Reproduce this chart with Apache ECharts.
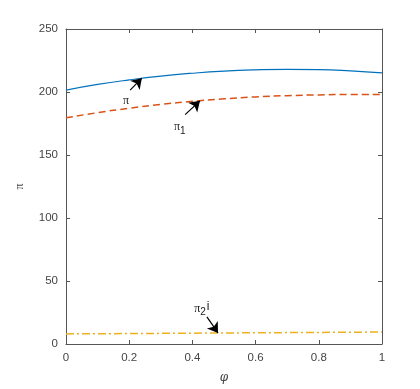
<!DOCTYPE html>
<html>
<head>
<meta charset="utf-8">
<script src="https://cdn.jsdelivr.net/npm/echarts@6/dist/echarts.min.js"></script>
<style>
  * { margin: 0; padding: 0; }
  html, body { background: #fff; }
  #main { width: 420px; height: 389px; }
</style>
</head>
<body>
<div id="main"></div>
<script>
// x positions (phi)
const phi = [0, 0.1, 0.2, 0.3, 0.4, 0.5, 0.6, 0.7, 0.8, 0.9, 1]
// series values
const piVals = [201.5, 206, 209.6, 212.6, 214.9, 216.6, 217.6, 218, 217.8, 216.8, 215.2]
const pi1Vals = [179.5, 183.6, 187.1, 190.1, 192.6, 194.6, 196.1, 197.1, 197.7, 198, 198]
const pi2Vals = [8, 8.15, 8.3, 8.45, 8.6, 8.75, 8.9, 9.05, 9.2, 9.35, 9.5]
// annotation arrows: [fromX, fromY, toX, toY]
const arrowPi = [0.203, 201.5, 0.24, 211]
const arrowPi1 = [0.377, 182, 0.424, 193]
const arrowPi2 = [0.446, 21.5, 0.481, 8.8]
// annotation label anchors
const labelPi = [0.19, 193]
const labelPi1 = [0.36, 172]
const labelPi2 = [0.43, 28]

const axisColor = '#555'
const textColor = '#444'

function pairs (ys) {
  return phi.map((x, i) => [x, ys[i]])
}

function arrow (a) {
  return {
    silent: true,
    symbol: ['none', 'arrow'],
    symbolSize: 10,
    label: { show: false },
    emphasis: { disabled: true },
    itemStyle: { color: '#000' },
    lineStyle: { color: '#000', type: 'solid', width: 1.2 },
    data: [[{ coord: [a[0], a[1]] }, { coord: [a[2], a[3]] }]]
  }
}

function label (p, text) {
  return {
    silent: true,
    symbol: 'circle',
    symbolSize: 0,
    label: {
      show: true,
      position: 'inside',
      formatter: text,
      fontFamily: 'Liberation Serif',
      fontSize: 12,
      color: '#222',
      rich: {
        s: { fontSize: 10, fontFamily: 'Liberation Sans', color: '#222', padding: [8, 0, 0, 0] },
        i: { fontSize: 12, fontFamily: 'Liberation Sans', color: '#222', padding: [0, 0, 4, 1] }
      }
    },
    data: [{ coord: p }]
  }
}

const myChart = echarts.init(document.getElementById('main'))

const option = {
  backgroundColor: '#fff',
  animation: false,
  grid: { left: 66, right: 38, top: 29, bottom: 44 },
  xAxis: [{
    type: 'value',
    min: 0,
    max: 1,
    interval: 0.2,
    name: 'φ',
    nameLocation: 'middle',
    nameGap: 28,
    nameTextStyle: { fontFamily: 'DejaVu Serif', fontStyle: 'italic', fontSize: 12, color: textColor },
    axisLine: { onZero: false, lineStyle: { color: axisColor } },
    axisTick: { inside: true, length: 4, lineStyle: { color: axisColor } },
    axisLabel: { color: textColor, fontFamily: 'Liberation Sans', fontSize: 11.5, margin: 8 },
    splitLine: { show: false }
  }, {
    type: 'value',
    position: 'top',
    min: 0,
    max: 1,
    interval: 0.2,
    axisLine: { show: true, onZero: false, lineStyle: { color: axisColor } },
    axisTick: { show: true, inside: true, length: 4, lineStyle: { color: axisColor } },
    axisLabel: { show: false },
    splitLine: { show: false }
  }],
  yAxis: [{
    type: 'value',
    min: 0,
    max: 250,
    interval: 50,
    name: 'π',
    nameLocation: 'middle',
    nameGap: 40,
    nameTextStyle: { fontFamily: 'Liberation Serif', fontSize: 12, color: textColor },
    axisLine: { show: true, onZero: false, lineStyle: { color: axisColor } },
    axisTick: { show: true, inside: true, length: 4, lineStyle: { color: axisColor } },
    axisLabel: { color: textColor, fontFamily: 'Liberation Sans', fontSize: 11.5, margin: 8 },
    splitLine: { show: false }
  }, {
    type: 'value',
    position: 'right',
    min: 0,
    max: 250,
    interval: 50,
    axisLine: { show: true, onZero: false, lineStyle: { color: axisColor } },
    axisTick: { show: true, inside: true, length: 4, lineStyle: { color: axisColor } },
    axisLabel: { show: false },
    splitLine: { show: false }
  }],
  series: [{
    type: 'line',
    data: pairs(piVals),
    smooth: true,
    symbol: 'none',
    lineStyle: { color: '#0072BD', width: 1.2 },
    markLine: arrow(arrowPi),
    markPoint: label(labelPi, 'π')
  }, {
    type: 'line',
    data: pairs(pi1Vals),
    smooth: true,
    symbol: 'none',
    lineStyle: { color: '#D95319', width: 1.5, type: [7, 4] },
    markLine: arrow(arrowPi1),
    markPoint: label(labelPi1, 'π{s|1}')
  }, {
    type: 'line',
    data: pairs(pi2Vals),
    symbol: 'none',
    lineStyle: { color: '#EDB120', width: 1.5, type: [8, 3, 2, 3] },
    markLine: arrow(arrowPi2),
    markPoint: label(labelPi2, 'π{s|2}{i|i}')
  }]
}

myChart.setOption(option)
</script>
</body>
</html>
